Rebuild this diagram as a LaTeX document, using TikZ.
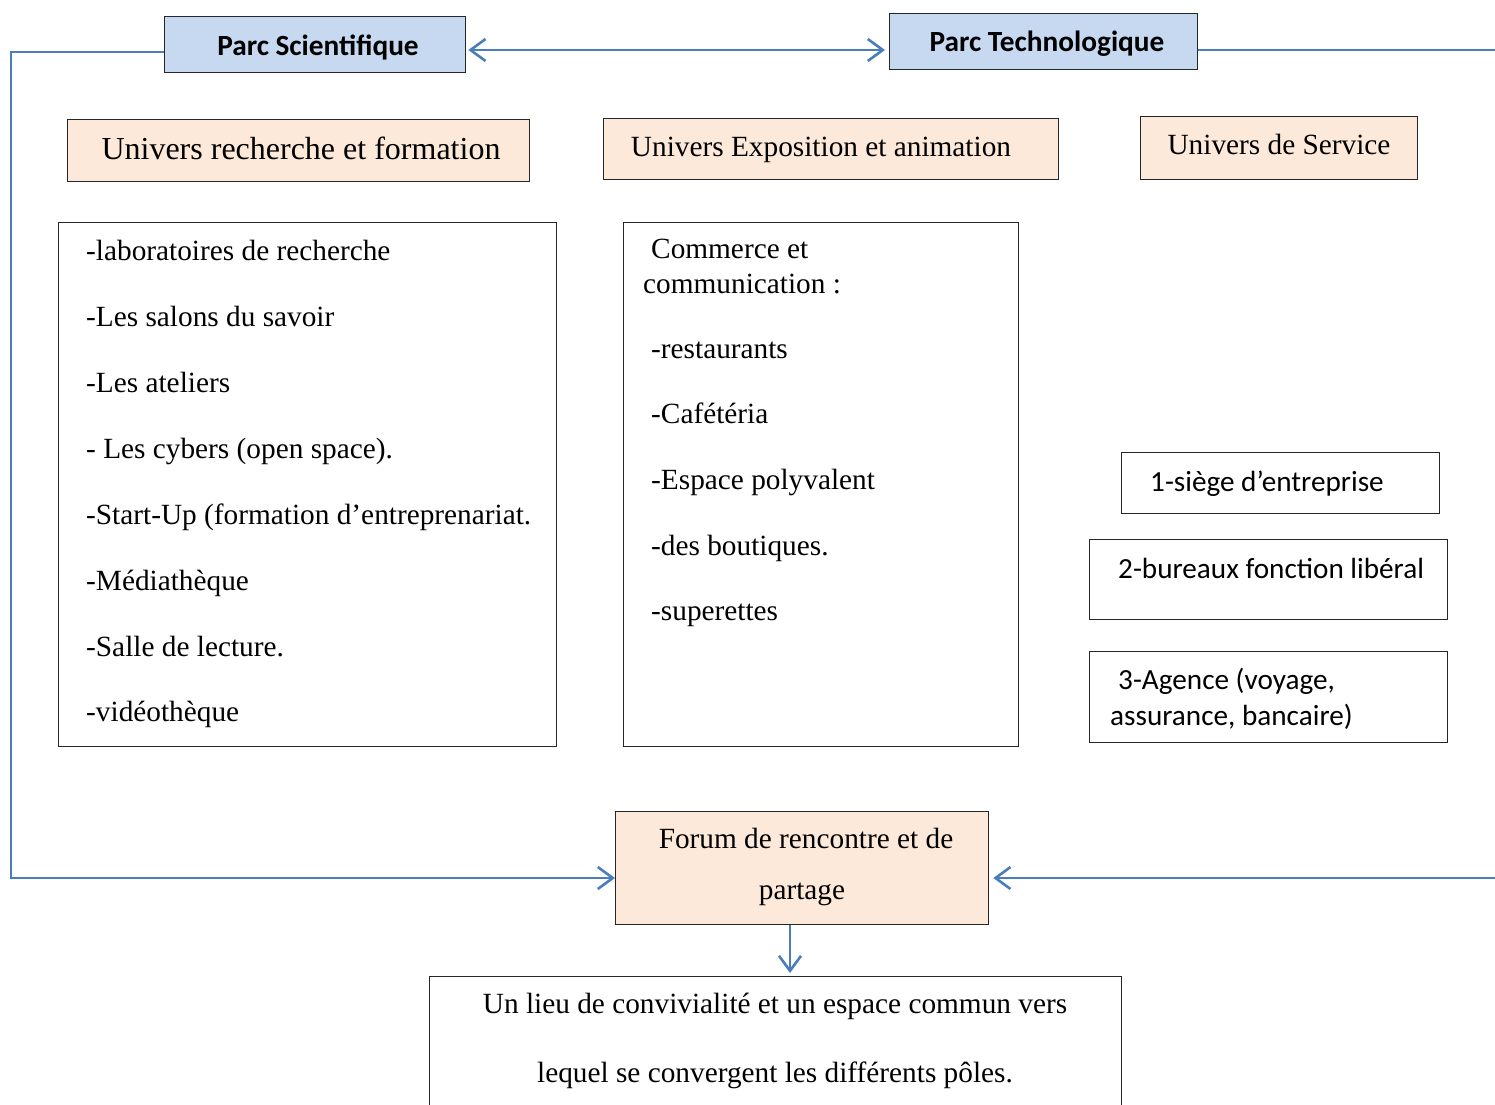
\documentclass[tikz,border=0pt]{standalone}
\usepackage{fontspec}
\setmainfont{Liberation Serif}
\newfontfamily\calibfont{Carlito}
\usetikzlibrary{arrows.meta}
\definecolor{lineblue}{HTML}{4A7EBB}
\definecolor{parcfill}{HTML}{C6D9F1}
\definecolor{peach}{HTML}{FDE9D9}
\begin{document}
\begin{tikzpicture}[x=1pt,y=-1pt,
  box/.style={draw=black!85, line width=1.3pt, inner sep=0pt, anchor=north west},
  conn/.style={draw=lineblue, line width=2.6pt},
  tip/.tip={Straight Barb[length=15pt,width=22pt]},
  body/.style={anchor=base west, inner sep=0pt, font=\fontsize{29.3}{35}\selectfont},
  bodyc/.style={anchor=base, inner sep=0pt, font=\fontsize{29.3}{35}\selectfont},
  sans/.style={anchor=base west, inner sep=0pt, font=\calibfont\fontsize{29.2}{35}\selectfont},
  parc/.style={anchor=base, inner sep=0pt, font=\calibfont\bfseries\fontsize{29.3}{35}\selectfont}]
\useasboundingbox (0,0) rectangle (1495,1104);
\fill[white] (0,0) rectangle (1495,1104);

% boxes
\node[box, fill=parcfill, minimum width=301pt, minimum height=56pt] (ps) at (164,16) {};
\node[box, fill=parcfill, minimum width=308pt, minimum height=56pt] (pt) at (889,13) {};
\node[box, fill=peach, minimum width=462pt, minimum height=62pt] (u1) at (67,119) {};
\node[box, fill=peach, minimum width=455pt, minimum height=61pt] (u2) at (603,118) {};
\node[box, fill=peach, minimum width=277pt, minimum height=63pt] (u3) at (1140,116) {};
\node[box, minimum width=498pt, minimum height=524pt] (l1) at (58,222) {};
\node[box, minimum width=395pt, minimum height=524pt] (l2) at (623,222) {};
\node[box, minimum width=318pt, minimum height=61pt] (s1) at (1121,452) {};
\node[box, minimum width=358pt, minimum height=80pt] (s2) at (1089,539) {};
\node[box, minimum width=358pt, minimum height=91pt] (s3) at (1089,651) {};
\node[box, fill=peach, minimum width=373pt, minimum height=113pt] (forum) at (615,811) {};
\node[box, minimum width=692pt, minimum height=140pt] (bot) at (429,976) {};

% texts
\node[parc] (tps) at (318,55) {Parc Scientifique};
\node[parc] (tpt) at (1047,51) {Parc Technologique};
\node[bodyc, font=\fontsize{32}{38}\selectfont] (tu1) at (301,159) {Univers recherche et formation};
\node[bodyc] (tu2) at (821,156) {Univers Exposition et animation};
\node[bodyc] (tu3) at (1279,154) {Univers de Service};

\node[body] (a1) at (86,260) {-laboratoires de recherche};
\node[body] (a2) at (86,326) {-Les salons du savoir};
\node[body] (a3) at (86,392) {-Les ateliers};
\node[body] (a4) at (86,458) {- Les cybers (open space).};
\node[body] (a5) at (86,524) {-Start-Up (formation d’entreprenariat.};
\node[body] (a6) at (86,590) {-Médiathèque};
\node[body] (a7) at (86,656) {-Salle de lecture.};
\node[body] (a8) at (86,721) {-vidéothèque};

\node[body] (b1) at (651,258) {Commerce et};
\node[body] (b2) at (643,293) {communication :};
\node[body] (b3) at (651,358) {-restaurants};
\node[body] (b4) at (651,423) {-Cafétéria};
\node[body] (b5) at (651,489) {-Espace polyvalent};
\node[body] (b6) at (651,555) {-des boutiques.};
\node[body] (b7) at (651,620) {-superettes};

\node[sans] (c1t) at (1150,491) {1-siège d’entreprise};
\node[sans] (c2t) at (1118,578) {2-bureaux fonction libéral};
\node[sans] (c3t) at (1118,689) {3-Agence (voyage,};
\node[sans] (c4t) at (1110,725) {assurance, bancaire)};

\node[bodyc] (f1) at (806,848) {Forum de rencontre et de};
\node[bodyc] (f2) at (802,899) {partage};

\node[bodyc] (g1) at (775,1013) {Un lieu de convivialité et un espace commun vers};
\node[bodyc] (g2) at (775,1082) {lequel se convergent les différents pôles.};

% connectors
\coordinate (ty) at (0,50);
\coordinate (lt) at (11,52);
\coordinate (lb) at (11,878);
\coordinate (rt) at (1495,50);
\coordinate (rb) at (1495,878);
\coordinate (dx) at (790,0);

\draw[conn, {tip}-{tip}, shorten <=2pt, shorten >=4pt] (ps.east |- ty) -- (pt.west |- ty);
\draw[conn, -{tip}, line join=miter] (lt -| ps.west) -- (lt) -- (lb) -- (lb -| forum.west);
\draw[conn] (pt.east |- ty) -- (rt);
\draw[conn, -{tip}, shorten >=4pt] (rb) -- (rb -| forum.east);
\draw[conn, -{tip}, shorten >=3pt] (forum.south -| dx) -- (bot.north -| dx);
\end{tikzpicture}
\end{document}
